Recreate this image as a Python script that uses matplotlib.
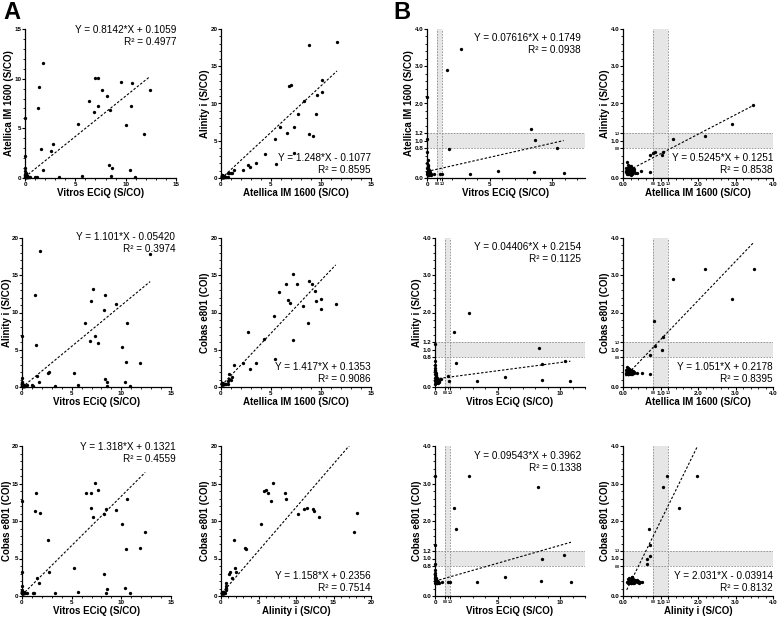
import matplotlib
matplotlib.use("Agg")
import matplotlib.pyplot as plt
from matplotlib.ticker import MultipleLocator

plt.rcParams["font.family"] = ["Liberation Sans", "DejaVu Sans"]

# =========================================================
# DATA
# *_low_*  : samples shown in both the full-range (A) and the low-range (B) panels
# *_high_* : extra samples that only show in the full-range (A) panels
# =========================================================

# Vitros ECiQ (x) vs Atellica IM 1600 (y)
va_low_x = [2.75, 1.6, 0.0, 8.32, 8.6, 10.4, 1.76, 5.65, 8.55, 10.9, 3.41, 1.0, 1.2, 0.53,
            0.02, 0.03, 0.05, 0.0, 0.04, 0.06, 0.1, 0.08, 0.12, 0.15,
            0.05, 0.2, 0.03, 0.1, 0.25, 0.07, 0.18, 0.3, 0.02, 0.13,
            0.09, 0.22, 0.04, 0.35, 0.11, 0.06, 0.16, 0.01]
va_low_y = [3.47, 2.89, 2.17, 1.31, 1.02, 0.81, 0.79, 0.18, 0.16, 0.13, 0.1, 0.12, 0.12, 0.1,
            1.05, 0.69, 0.47, 0.4, 0.35, 0.31, 0.28, 0.25, 0.22, 0.2,
            0.19, 0.17, 0.16, 0.15, 0.14, 0.14, 0.13, 0.12, 0.12, 0.11,
            0.1, 0.1, 0.09, 0.09, 0.08, 0.08, 0.07, 0.27]
va_high_x = [1.76, 1.43, 1.26, 5.25, 6.35, 6.84, 7.0, 7.24, 7.28, 7.64,
             8.17, 8.4, 9.5, 10.6, 10.5, 10.07, 11.86, 12.4, 0.0, 2.6]
va_high_y = [11.6, 9.16, 7.0, 5.44, 7.75, 6.6, 10.1, 10.1, 7.28, 8.9,
             8.29, 6.8, 9.63, 9.56, 7.28, 5.34, 4.4, 8.86, 6.0, 2.72]

# Atellica IM 1600 (x) vs Alinity i (y)
al_low_x = [3.47, 2.9, 2.18, 1.32, 1.06, 1.04, 0.84, 0.8, 0.71, 0.71, 0.49, 0.37,
            0.1, 0.12, 0.15, 0.08, 0.2, 0.18, 0.1, 0.25, 0.13, 0.22,
            0.3, 0.16, 0.09, 0.28, 0.19, 0.11, 0.24, 0.14, 0.17, 0.07,
            0.21, 0.33, 0.12, 0.26, 0.15, 0.1, 0.2, 0.18, 0.13, 0.23]
al_low_y = [1.96, 1.46, 1.14, 1.05, 0.71, 0.63, 0.69, 0.66, 0.62, 0.15, 0.18, 0.13,
            0.42, 0.35, 0.3, 0.28, 0.33, 0.25, 0.22, 0.27, 0.2, 0.2,
            0.18, 0.17, 0.16, 0.24, 0.14, 0.13, 0.12, 0.12, 0.1, 0.19,
            0.09, 0.13, 0.26, 0.15, 0.23, 0.11, 0.29, 0.31, 0.15, 0.22]
al_high_x = [8.8, 11.6, 6.8, 7.0, 10.1, 10.1, 9.6, 8.3, 7.7, 9.5,
             5.9, 7.25, 6.6, 5.35, 8.8, 9.2, 7.3, 4.4, 5.5, 2.75]
al_high_y = [17.8, 18.2, 12.4, 12.5, 13.1, 11.6, 11.2, 10.3, 8.6, 8.6,
             6.8, 6.9, 6.1, 5.3, 5.85, 5.67, 3.35, 3.26, 1.9, 1.7]

# Vitros ECiQ (x) vs Alinity i (y)
vl_low_x = [2.72, 1.55, 8.32, 1.7, 8.56, 10.37, 1.01, 1.15, 3.33, 5.6, 8.53, 10.83, 0.48, 0.0, 0.0,
            0.0, 0.02, 0.01, 0.03, 0.05, 0.02, 0.08, 0.04, 0.1, 0.06,
            0.12, 0.03, 0.15, 0.07, 0.2, 0.05, 0.25, 0.09, 0.3, 0.02,
            0.14, 0.18, 0.04, 0.35, 0.11, 0.06, 0.22, 0.01]
vl_low_y = [1.98, 1.47, 1.06, 0.65, 0.62, 0.69, 0.3, 0.15, 0.16, 0.27, 0.19, 0.15, 0.21, 1.15, 0.71,
            0.6, 0.52, 0.46, 0.42, 0.38, 0.35, 0.33, 0.3, 0.28, 0.26,
            0.25, 0.24, 0.22, 0.21, 0.2, 0.19, 0.19, 0.18, 0.17, 0.16,
            0.15, 0.14, 0.14, 0.13, 0.12, 0.11, 0.1, 0.09]
vl_high_x = [1.83, 12.9, 1.27, 7.17, 6.97, 8.4, 9.5, 8.23, 6.37, 10.6,
             7.3, 6.83, 7.63, 10.1, 1.4, 0.0, 10.5, 11.9, 5.23, 2.6]
vl_high_y = [18.3, 17.8, 12.4, 13.1, 11.6, 12.3, 11.2, 10.3, 8.6, 8.6,
             6.9, 6.15, 5.88, 5.35, 5.7, 6.8, 3.34, 3.25, 1.87, 1.83]

# Atellica IM 1600 (x) vs Cobas e801 (y)
ac_low_x = [2.18, 3.48, 1.32, 2.9, 0.82, 1.07, 0.84, 1.05, 0.72, 0.73, 0.51, 0.37,
            0.1, 0.12, 0.15, 0.08, 0.2, 0.18, 0.1, 0.25, 0.13, 0.22,
            0.3, 0.16, 0.09, 0.28, 0.19, 0.11, 0.24, 0.14, 0.17, 0.07,
            0.21, 0.12, 0.26, 0.15, 0.1, 0.2, 0.18, 0.13]
ac_low_y = [3.18, 3.18, 2.9, 2.35, 1.78, 1.35, 1.09, 1.0, 0.85, 0.36, 0.37, 0.37,
            0.55, 0.5, 0.48, 0.46, 0.45, 0.44, 0.43, 0.42, 0.41, 0.4,
            0.4, 0.39, 0.38, 0.38, 0.37, 0.37, 0.36, 0.36, 0.35, 0.35,
            0.34, 0.34, 0.42, 0.47, 0.4, 0.38, 0.44, 0.36]
ac_high_x = [7.15, 6.52, 7.62, 8.75, 9.08, 5.79, 9.41, 6.68, 6.88, 10.0,
             11.47, 9.51, 8.18, 10.0, 5.25, 8.68, 2.66, 4.32, 7.18, 5.35]
ac_high_y = [15.2, 13.8, 13.8, 14.2, 13.8, 12.74, 12.9, 11.67, 11.3, 11.8,
             11.1, 11.5, 10.9, 10.5, 9.58, 8.6, 7.44, 6.46, 6.33, 3.79]

# Vitros ECiQ (x) vs Cobas e801 (y)
vc_low_x = [2.69, 0.0, 8.27, 1.55, 1.71, 0.0, 0.0, 8.53, 10.35, 5.6, 3.33, 8.48, 10.88, 1.07, 1.2, 0.53,
            0.0, 0.02, 0.01, 0.03, 0.05, 0.02, 0.08, 0.04, 0.1, 0.06,
            0.12, 0.03, 0.15, 0.07, 0.2, 0.05, 0.25, 0.09, 0.3, 0.02,
            0.14, 0.18, 0.04, 0.11, 0.06, 0.01]
vc_low_y = [3.19, 3.21, 2.9, 2.34, 1.78, 1.35, 0.85, 0.99, 1.09, 0.5, 0.37, 0.41, 0.37, 0.37, 0.37, 0.37,
            0.62, 0.55, 0.5, 0.48, 0.46, 0.45, 0.44, 0.43, 0.42, 0.41,
            0.4, 0.4, 0.39, 0.39, 0.38, 0.38, 0.37, 0.37, 0.36, 0.36,
            0.35, 0.35, 0.34, 0.44, 0.47, 0.7]
vc_high_x = [7.33, 6.4, 6.9, 7.67, 1.43, 0.0, 10.57, 6.97, 8.43, 9.5,
             1.27, 1.83, 8.23, 7.17, 10.1, 12.4, 2.57, 10.5, 11.9, 5.23]
vc_high_y = [15.1, 13.8, 13.8, 14.1, 13.8, 12.7, 12.9, 11.8, 11.6, 11.5,
             11.3, 11.1, 10.9, 10.5, 9.56, 8.58, 7.42, 6.27, 6.44, 3.78]

# Alinity i (x) vs Cobas e801 (y)
lc_low_x = [1.98, 1.16, 1.07, 1.48, 0.68, 0.73, 0.71, 0.64, 0.64,
            0.12, 0.15, 0.18, 0.2, 0.22, 0.25, 0.28, 0.3, 0.33, 0.35,
            0.38, 0.4, 0.45, 0.5, 0.14, 0.17, 0.21, 0.24, 0.27, 0.31,
            0.19, 0.23, 0.26, 0.29, 0.16, 0.2, 0.36, 0.42, 0.1, 0.25]
lc_low_y = [3.19, 3.21, 2.9, 2.34, 1.78, 1.35, 1.08, 0.99, 0.85,
            0.36, 0.38, 0.4, 0.42, 0.44, 0.38, 0.4, 0.37, 0.39, 0.41,
            0.38, 0.4, 0.37, 0.38, 0.45, 0.48, 0.35, 0.5, 0.36, 0.43,
            0.37, 0.41, 0.46, 0.34, 0.4, 0.36, 0.43, 0.35, 0.38, 0.52]
lc_high_x = [6.89, 5.78, 6.0, 6.2, 8.58, 8.62, 6.71, 11.47, 11.1, 12.27,
             12.44, 10.2, 13.0, 18.1, 17.7, 5.33, 1.73, 3.2, 3.38, 1.82]
lc_high_y = [15.1, 13.96, 14.1, 13.8, 13.8, 12.9, 12.7, 11.8, 11.56, 11.56,
             11.3, 10.9, 10.5, 11.1, 8.58, 9.56, 7.42, 6.44, 6.27, 3.78]

# Linear fits printed on each panel: slope, intercept, R squared
fit_slope = ["0.8142", "1.248", "0.07616", "0.5245",
             "1.101", "1.417", "0.04406", "1.051",
             "1.318", "1.158", "0.09543", "2.031"]
fit_icpt = ["0.1059", "-0.1077", "0.1749", "0.1251",
            "-0.05420", "0.1353", "0.2154", "0.2178",
            "0.1321", "0.2356", "0.3962", "-0.03914"]
fit_r2 = ["0.4977", "0.8595", "0.0938", "0.8538",
          "0.3974", "0.9086", "0.1125", "0.8395",
          "0.4559", "0.7514", "0.1338", "0.8132"]

VITROS = "Vitros ECiQ (S/CO)"
ATELLICA = "Atellica IM 1600 (S/CO)"
ALINITY = "Alinity i (S/CO)"
COBAS = "Cobas e801 (COI)"

# =========================================================
# LAYOUT (pixel boxes: left, top, right, bottom; ylabel offset)
# =========================================================
W, H = 778, 617
BAND_LO, BAND_HI = 0.8, 1.2

panels = [
    # row 1
    dict(box=(25, 29, 176, 178), yoff=16, data=("va", False), lim=(15, 15), lab=(VITROS, ATELLICA), txt="top", tx=1.0, ty=1.025),
    dict(box=(221, 29, 371, 178), yoff=15.5, data=("al", False), lim=(15, 20), lab=(ATELLICA, ALINITY), txt="bottom", tx=1.0, ty=0.02),
    dict(box=(427, 29, 585, 178), yoff=18, data=("va", True), lim=(12.6, 4), lab=(VITROS, ATELLICA), txt="top", tx=0.975, ty=0.975, kind="v"),
    dict(box=(623, 29, 773, 178), yoff=17.5, data=("al", True), lim=(4, 4), lab=(ATELLICA, ALINITY), txt="bottom", tx=1.0, ty=0.02, kind="b"),
    # row 2
    dict(box=(22, 238, 171, 387), yoff=14.5, data=("vl", False), lim=(15, 20), lab=(VITROS, ALINITY), txt="top", tx=1.03, ty=1.04),
    dict(box=(221, 238, 371, 387), yoff=15.5, data=("ac", False), lim=(15, 20), lab=(ATELLICA, COBAS), txt="bottom", tx=1.0, ty=0.02),
    dict(box=(435, 238, 585, 387), yoff=17.5, data=("vl", True), lim=(12, 4), lab=(VITROS, ALINITY), txt="top", tx=0.975, ty=0.975, kind="v"),
    dict(box=(623, 238, 773, 387), yoff=17.5, data=("ac", True), lim=(4, 4), lab=(ATELLICA, COBAS), txt="bottom", tx=1.0, ty=0.02, kind="b"),
    # row 3
    dict(box=(22, 446, 171, 596), yoff=14.5, data=("vc", False), lim=(15, 20), lab=(VITROS, COBAS), txt="top", tx=1.03, ty=1.03),
    dict(box=(221, 446, 371, 596), yoff=15.5, data=("lc", False), lim=(20, 20), lab=(ALINITY, COBAS), txt="bottom", tx=1.0, ty=0.02),
    dict(box=(435, 446, 585, 596), yoff=17.5, data=("vc", True), lim=(12, 4), lab=(VITROS, COBAS), txt="top", tx=0.975, ty=0.965, kind="v"),
    dict(box=(623, 446, 773, 596), yoff=17.5, data=("lc", True), lim=(4, 4), lab=(ALINITY, COBAS), txt="bottom", tx=1.0, ty=0.02, kind="b"),
]

pairs = {
    "va": (va_low_x, va_low_y, va_high_x, va_high_y),
    "al": (al_low_x, al_low_y, al_high_x, al_high_y),
    "vl": (vl_low_x, vl_low_y, vl_high_x, vl_high_y),
    "ac": (ac_low_x, ac_low_y, ac_high_x, ac_high_y),
    "vc": (vc_low_x, vc_low_y, vc_high_x, vc_high_y),
    "lc": (lc_low_x, lc_low_y, lc_high_x, lc_high_y),
}

TICK_FS = 4.5
TINY_FS = 2.6
LABEL_FS = 7
EQ_FS = 7.2
XLAB_OFF = 15   # pixels from the x axis to the centre of the x label


def style_axes(ax):
    for side in ["top", "right"]:
        ax.spines[side].set_visible(False)
    for side in ["left", "bottom"]:
        ax.spines[side].set_linewidth(0.9)
    ax.tick_params(which="major", direction="out", length=2, width=0.8, pad=0.6)
    ax.tick_params(which="minor", direction="out", length=1.1, width=0.6)
    for lab in ax.get_xticklabels() + ax.get_yticklabels():
        lab.set_fontweight("bold")


def set_ticks(ax, kind, xmax, ymax):
    if kind is None:
        ax.set_xticks(range(0, int(xmax) + 1, 5))
        ax.set_yticks(range(0, int(ymax) + 1, 5))
        ax.xaxis.set_minor_locator(MultipleLocator(1))
        ax.yaxis.set_minor_locator(MultipleLocator(1))
        ax.tick_params(labelsize=TICK_FS)
        return
    yt = [0, 0.8, 1.0, 1.2, 2, 3, 4]
    ax.set_yticks(yt)
    ax.set_yticklabels(["0.0", "0.8", "1.0", "1.2", "2.0", "3.0", "4.0"])
    ax.yaxis.set_minor_locator(MultipleLocator(0.2))
    if kind == "v":
        ax.set_xticks([0, 0.8, 1.2, 5, 10])
        ax.set_xticklabels(["0", "0.8", "1.2", "5", "10"])
        ax.xaxis.set_minor_locator(MultipleLocator(1))
    else:
        ax.set_xticks(yt)
        ax.set_xticklabels(["0.0", "0.8", "1.0", "1.2", "2.0", "3.0", "4.0"])
        ax.xaxis.set_minor_locator(MultipleLocator(0.2))
    ax.tick_params(labelsize=TICK_FS)
    for lab, v in zip(ax.get_xticklabels(), ax.get_xticks()):
        if v in (0.8, 1.2):
            lab.set_fontsize(TINY_FS)
    if kind == "b":
        for lab, v in zip(ax.get_yticklabels(), ax.get_yticks()):
            if v in (0.8, 1.2):
                lab.set_fontsize(TINY_FS)


fig = plt.figure(figsize=(W / 100, H / 100), dpi=100)

for i, p in enumerate(panels):
    l, t, r, b = p["box"]
    ax = fig.add_axes([l / W, 1 - b / H, (r - l) / W, (b - t) / H])
    xmax, ymax = p["lim"]
    key, zoomed = p["data"]
    kind = p.get("kind")

    lx, ly, hx, hy = pairs[key]
    if zoomed:
        xs = [x for x, y in zip(lx, ly) if x <= xmax and y <= ymax]
        ys = [y for x, y in zip(lx, ly) if x <= xmax and y <= ymax]
    else:
        xs = list(lx) + list(hx)
        ys = list(ly) + list(hy)

    ax.set_xlim(0, xmax)
    ax.set_ylim(0, ymax)

    # grey-zone bands for the low-range panels
    if zoomed:
        ax.axhspan(BAND_LO, BAND_HI, color="#e6e6e6", zorder=0, lw=0)
        ax.axvspan(BAND_LO, BAND_HI, color="#e6e6e6", zorder=0, lw=0)
        for v in (BAND_LO, BAND_HI):
            ax.axhline(v, color="#8c8c8c", lw=0.6, ls=(0, (2, 1.5)), zorder=1)
            ax.axvline(v, color="#8c8c8c", lw=0.6, ls=(0, (2, 1.5)), zorder=1)

    # regression line over the data range
    slope, icpt = float(fit_slope[i]), float(fit_icpt[i])
    x0, x1 = min(xs), max(xs)
    ax.plot([x0, x1], [slope * x0 + icpt, slope * x1 + icpt],
            color="black", lw=0.8, ls=(0, (2.2, 1.6)), zorder=2)

    ax.plot(xs, ys, "o", color="black", ms=2.4, mew=0, clip_on=False, zorder=3)

    set_ticks(ax, kind, xmax, ymax)
    style_axes(ax)
    ax.set_xlabel(p["lab"][0], fontsize=LABEL_FS, fontweight="bold", va="center")
    ax.set_ylabel(p["lab"][1], fontsize=LABEL_FS, fontweight="bold", va="center")
    ax.xaxis.set_label_coords(0.5, -XLAB_OFF / (b - t))
    ax.yaxis.set_label_coords(-p["yoff"] / (r - l), 0.5)

    sign = "-" if fit_icpt[i].startswith("-") else "+"
    eq = f"Y = {fit_slope[i]}*X {sign} {fit_icpt[i].lstrip('-')}\nR\u00b2 = {fit_r2[i]}"
    ax.text(p["tx"], p["ty"], eq, transform=ax.transAxes, ha="right", multialignment="right",
            va="top" if p["txt"] == "top" else "bottom", fontsize=EQ_FS, linespacing=1.25)

fig.text(3 / W, 1 - 1 / H, "A", fontsize=17, fontweight="bold", va="top", ha="left")
fig.text(393 / W, 1 - 1 / H, "B", fontsize=17, fontweight="bold", va="top", ha="left")

fig.savefig("out.png", dpi=100)
